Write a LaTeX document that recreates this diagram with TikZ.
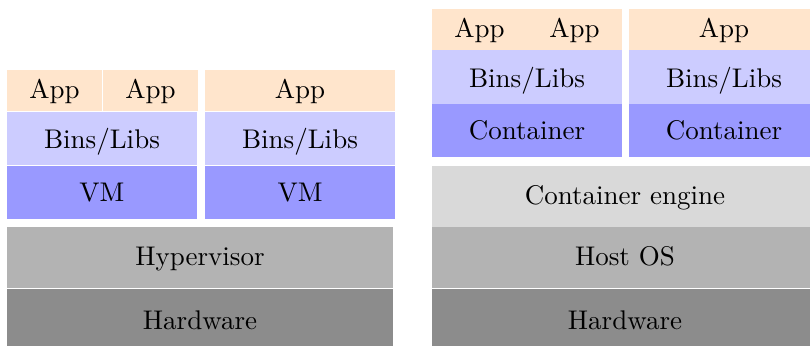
\documentclass[tikz,border=0pt]{standalone}
\usepackage{fontspec}
\usepackage{tikz}

% the 10pt design of Latin Modern, scaled up, for the layer labels
\newfontfamily\layerface{lmroman10-regular}[Extension=.otf]

\definecolor{appfill}{HTML}{FFE5CC}
\definecolor{libfill}{HTML}{CCCCFF}
\definecolor{envfill}{HTML}{9999FF}
\definecolor{enginefill}{HTML}{D9D9D9}
\definecolor{osfill}{HTML}{B3B3B3}
\definecolor{hwfill}{HTML}{8C8C8C}

\tikzset{
  layer/.style={rectangle, draw=none, inner sep=0pt, outer sep=0pt,
    anchor=north west, font=\layerface\fontsize{27}{32}\selectfont,
    text height=19pt, text depth=4pt},
  approw/.style={layer, fill=appfill, minimum height=41pt},
  librow/.style={layer, fill=libfill, minimum height=53pt,
    text height=22pt, text depth=2pt},
  envrow/.style={layer, fill=envfill, minimum height=53pt,
    text height=21pt, text depth=3pt},
  enginerow/.style={layer, fill=enginefill, minimum height=61pt},
  osrow/.style={layer, fill=osfill, minimum height=61pt,
    text height=20pt, text depth=4pt},
  hwrow/.style={layer, fill=hwfill, minimum height=57pt,
    text height=25pt, text depth=2pt},
}

\begin{document}
\begin{tikzpicture}[x=1pt, y=-1pt]
  \useasboundingbox (0,0) rectangle (810,346);

  % virtual machines stack
  \node[approw, minimum width=95pt]  (vmappa) at (7,70)   {App};
  \node[approw, minimum width=95pt]  (vmappb) at (103,70) {App};
  \node[librow, minimum width=190pt] (vmlibsa) at (7,112)  {Bins/Libs};
  \node[envrow, minimum width=190pt] (vma)     at (7,166)  {VM};

  \node[approw, minimum width=190pt] (vmappc)  at (205,70)  {App};
  \node[librow, minimum width=190pt] (vmlibsb) at (205,112) {Bins/Libs};
  \node[envrow, minimum width=190pt] (vmb)     at (205,166) {VM};

  \node[osrow, minimum width=386pt]  (hypervisor) at (7,227) {Hypervisor};
  \node[hwrow, minimum width=386pt]  (hwa)        at (7,289) {Hardware};

  % containers stack (runs on past the right edge of the page)
  \node[approw, minimum width=95pt]  (ctappa) at (432,9) {App};
  \node[approw, minimum width=95pt]  (ctappb) at (527,9) {App};
  \node[librow, minimum height=54pt, minimum width=190pt] (ctlibsa) at (432,50) {Bins/Libs};
  \node[envrow, minimum width=190pt] (cta)    at (432,104) {Container};

  \node[approw, minimum width=190pt] (ctappc) at (629,9) {App};
  \node[librow, minimum height=54pt, minimum width=190pt] (ctlibsb) at (629,50) {Bins/Libs};
  \node[envrow, minimum width=190pt] (ctb)    at (629,104) {Container};

  \node[enginerow, minimum width=386pt] (engine) at (432,166) {Container engine};
  \node[osrow, minimum width=386pt]     (hostos) at (432,227) {Host OS};
  \node[hwrow, minimum width=386pt]     (hwb)    at (432,289) {Hardware};
\end{tikzpicture}
\end{document}
